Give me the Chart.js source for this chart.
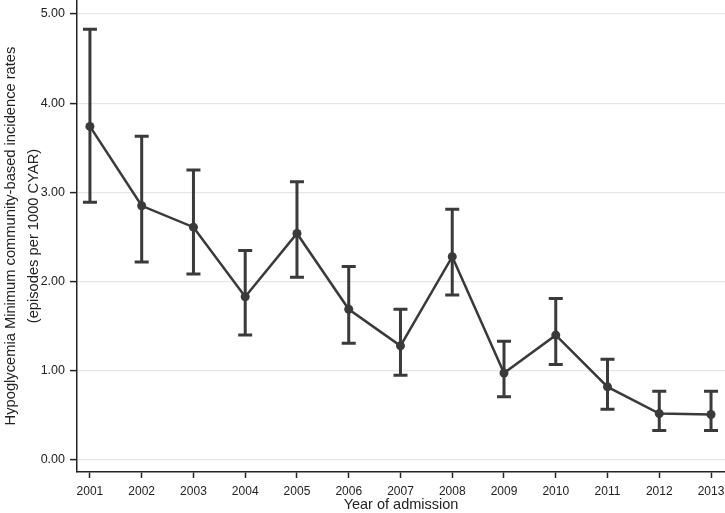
<!DOCTYPE html>
<html>
<head>
<meta charset="utf-8">
<script src="https://cdn.jsdelivr.net/npm/chart.js@4/dist/chart.umd.min.js"></script>
<style>
html,body{margin:0;padding:0;background:#fff;}
#wrap{width:725px;height:513px;}
</style>
</head>
<body>
<div id="wrap"><canvas id="c" width="725" height="513"></canvas></div>
<script>
const years = [2001,2002,2003,2004,2005,2006,2007,2008,2009,2010,2011,2012,2013];
const rates = [3.74,2.85,2.61,1.83,2.54,1.69,1.28,2.28,0.975,1.40,0.82,0.52,0.51];
const upper = [4.83,3.63,3.25,2.35,3.12,2.17,1.69,2.81,1.33,1.81,1.13,0.77,0.77];
const lower = [2.89,2.22,2.085,1.40,2.05,1.31,0.95,1.85,0.71,1.07,0.57,0.33,0.33];
const yTicks = [0,1,2,3,4,5];
const yTitle = ["Hypoglycemia Minimum community-based incidence rates","(episodes per 1000 CYAR)"];
const xTitle = "Year of admission";

const ink = '#3a3a3a';

// no extra layout padding for point overflow
Chart.LineController.prototype.getMaxOverflow = function () { return 0; };

const errorBars = {
  id: 'errorBars',
  beforeDatasetsDraw(chart) {
    const {ctx, scales:{x, y}} = chart;
    ctx.save();
    ctx.strokeStyle = ink;
    ctx.lineWidth = 3;
    ctx.lineCap = 'butt';
    years.forEach((yr, i) => {
      const px = x.getPixelForValue(yr);
      const pu = y.getPixelForValue(upper[i]);
      const pl = y.getPixelForValue(lower[i]);
      ctx.beginPath();
      ctx.moveTo(px, pu); ctx.lineTo(px, pl);
      ctx.moveTo(px - 7, pu); ctx.lineTo(px + 7, pu);
      ctx.moveTo(px - 7, pl); ctx.lineTo(px + 7, pl);
      ctx.stroke();
    });
    ctx.restore();
  }
};

new Chart(document.getElementById('c'), {
  type: 'line',
  data: {
    datasets: [{
      data: years.map((yr, i) => ({x: yr, y: rates[i]})),
      borderColor: ink,
      backgroundColor: ink,
      borderWidth: 2.5,
      pointRadius: 4.5,
      pointBackgroundColor: ink,
      pointBorderWidth: 0,
      tension: 0,
      fill: false,
      clip: false
    }]
  },
  options: {
    responsive: false,
    animation: false,
    devicePixelRatio: 1,
    layout: {padding: 0},
    plugins: {legend: {display: false}, tooltip: {enabled: false}},
    scales: {
      x: {
        type: 'linear',
        min: 2000.75,
        max: 2013.27,
        afterBuildTicks: s => { s.ticks = years.map(v => ({value: v})); },
        afterFit: s => { s.height = 41; s.paddingLeft = 0; s.paddingRight = 0; },
        grid: {drawOnChartArea: false, drawTicks: true, tickLength: 6, tickColor: '#222', tickWidth: 1.5},
        border: {display: true, color: '#222', width: 1.5},
        ticks: {
          color: '#222', padding: 6, maxRotation: 0, autoSkip: false,
          font: {family: 'Liberation Sans', size: 12},
          callback: v => String(v)
        },
        title: {display: true, text: xTitle, color: '#222', padding: {top: 0, bottom: 0},
          font: {family: 'Liberation Sans', size: 14.5, lineHeight: 1.15}}
      },
      y: {
        type: 'linear',
        min: -0.1345,
        max: 5.157,
        afterBuildTicks: s => { s.ticks = yTicks.map(v => ({value: v})); },
        afterFit: s => { s.width = 77; s.paddingTop = 0; s.paddingBottom = 0; },
        grid: {drawOnChartArea: true, color: '#e6e6e6', lineWidth: 1.2, drawTicks: true, tickLength: 7, tickColor: '#222', tickWidth: 1.5},
        border: {display: true, color: '#222', width: 1.5},
        ticks: {
          color: '#222', padding: 5,
          font: {family: 'Liberation Sans', size: 12.5},
          callback: v => Number(v).toFixed(2)
        },
        title: {display: true, text: yTitle, color: '#222', padding: {top: 0, bottom: 0},
          font: {family: 'Liberation Sans', size: 14.7, lineHeight: 1.52}}
      }
    }
  },
  plugins: [errorBars]
});
</script>
</body>
</html>
